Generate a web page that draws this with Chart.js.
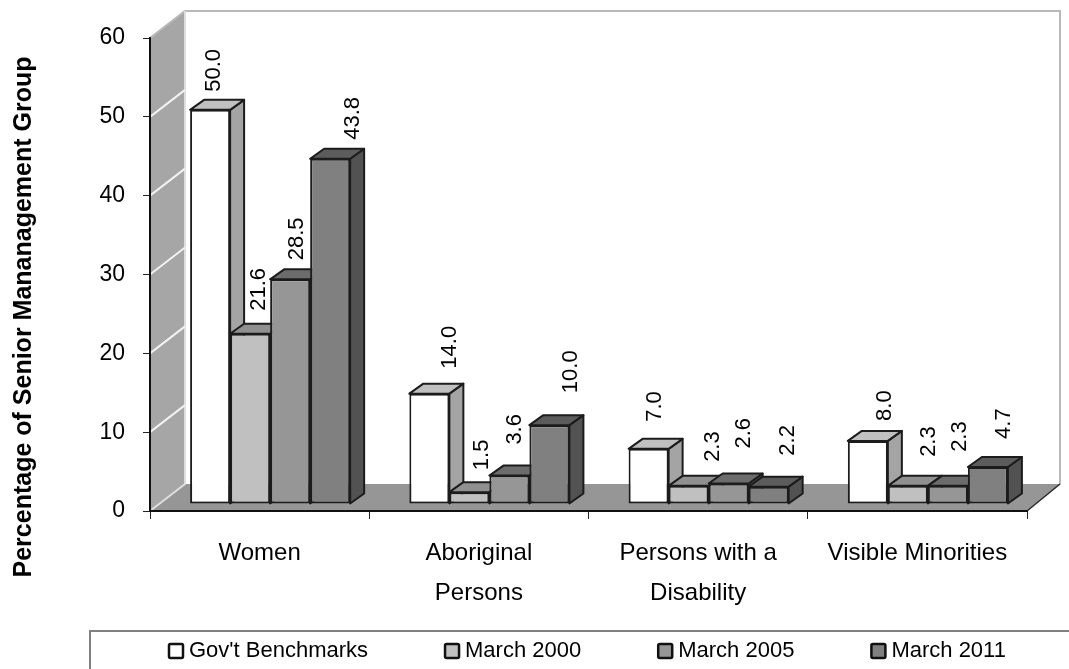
<!DOCTYPE html>
<html>
<head>
<meta charset="utf-8">
<style>
  html, body { margin: 0; padding: 0; background: #fff; overflow: hidden; }
  canvas { display: block; }
</style>
<script src="https://cdn.jsdelivr.net/npm/chart.js@4/dist/chart.umd.js"></script>
</head>
<body>
<canvas id="benchChart" width="1069" height="669"></canvas>
<script>
const categories = ['Women', ['Aboriginal', 'Persons'], ['Persons with a', 'Disability'], 'Visible Minorities'];
const seriesNames = ["Gov't Benchmarks", 'March 2000', 'March 2005', 'March 2011'];
const benchmarks = [50.0, 14.0, 7.0, 8.0];
const march2000 = [21.6, 1.5, 2.3, 2.3];
const march2005 = [28.5, 3.6, 2.6, 2.3];
const march2011 = [43.8, 10.0, 2.2, 4.7];
const yTicks = [0, 10, 20, 30, 40, 50, 60];

const frontColors = ['#ffffff', '#c0c0c0', '#969696', '#808080'];
const topColors = ['#c0c0c0', '#909090', '#6c6c6c', '#5c5c5c'];
const sideColors = ['#a4a4a4', '#858585', '#606060', '#525252'];

const FONT = '"Liberation Sans", Arial, sans-serif';
const LINE = '#1c1c1c';

// the bars stand a little in front of the axis plane
const barShift = { x: 10.5, y: -7 };
const barDepth = { x: 14, y: -10 };
const wallDepth = { x: 35, y: -27 };
const wallRightInset = 2;

// hand placed value labels: [along x from bar centre, gap above bar top], per series then category
const labelNudge = [
  [[4, 18], [21, 25], [6, 27], [17, 20]],
  [[9, 23], [13, 22], [24, 24], [21, 29]],
  [[7, 19], [6, 31], [15, 35], [12, 34]],
  [[23, 19], [22, 32], [19, 31], [16, 28]]
];

function poly(ctx, pts, fill, stroke, width) {
  ctx.beginPath();
  pts.forEach((p, i) => (i ? ctx.lineTo(p[0], p[1]) : ctx.moveTo(p[0], p[1])));
  ctx.closePath();
  ctx.fillStyle = fill;
  ctx.fill();
  if (stroke) {
    ctx.strokeStyle = stroke;
    ctx.lineWidth = width;
    ctx.stroke();
  }
}

const roomPlugin = {
  id: 'room',
  beforeDraw(chart) {
    const { ctx, chartArea: a, scales } = chart;
    const dx = wallDepth.x, dy = wallDepth.y;
    const backRight = a.right + dx - wallRightInset;
    ctx.save();
    // back wall
    poly(ctx, [[a.left + dx, a.top + dy], [backRight, a.top + dy], [backRight, a.bottom + dy], [a.left + dx, a.bottom + dy]], '#ffffff');
    // side wall
    poly(ctx, [[a.left, a.bottom], [a.left, a.top], [a.left + dx, a.top + dy], [a.left + dx, a.bottom + dy]], '#a6a6a6');
    // floor
    poly(ctx, [[a.left, a.bottom], [a.left + dx, a.bottom + dy], [backRight, a.bottom + dy], [a.right, a.bottom]], '#969696');
    // wall outlines
    ctx.strokeStyle = '#b8b8b8';
    ctx.lineWidth = 2;
    ctx.beginPath();
    ctx.moveTo(a.left, a.top);
    ctx.lineTo(a.left + dx, a.top + dy);
    ctx.lineTo(backRight, a.top + dy);
    ctx.lineTo(backRight, a.bottom + dy);
    ctx.stroke();
    ctx.strokeStyle = '#dedede';
    ctx.beginPath();
    ctx.moveTo(a.left + dx, a.top + dy);
    ctx.lineTo(a.left + dx, a.bottom + dy);
    ctx.lineTo(a.left, a.bottom);
    ctx.stroke();
    ctx.strokeStyle = '#2a2a2a';
    ctx.lineWidth = 1.5;
    ctx.beginPath();
    ctx.moveTo(a.right, a.bottom);
    ctx.lineTo(backRight, a.bottom + dy);
    ctx.stroke();
    // gridlines only show on the side wall
    ctx.strokeStyle = '#f2f2f2';
    ctx.lineWidth = 2;
    yTicks.slice(1, -1).forEach(v => {
      const y = scales.y.getPixelForValue(v);
      ctx.beginPath();
      ctx.moveTo(a.left, y);
      ctx.lineTo(a.left + dx, y + dy);
      ctx.stroke();
    });
    ctx.restore();
  },
  beforeDatasetsDraw(chart) {
    const { ctx } = chart;
    ctx.save();
    ctx.translate(barShift.x, barShift.y);
    ctx.lineJoin = 'round';
    categories.forEach((c, i) => {
      chart.data.datasets.forEach((ds, d) => {
        const bar = chart.getDatasetMeta(d).data[i];
        const l = bar.x - bar.width / 2, r = bar.x + bar.width / 2;
        const dx = barDepth.x, dy = barDepth.y;
        poly(ctx, [[r, bar.y], [r + dx, bar.y + dy], [r + dx, bar.base + dy], [r, bar.base]], sideColors[d], LINE, 2);
        poly(ctx, [[l, bar.y], [l + dx, bar.y + dy], [r + dx, bar.y + dy], [r, bar.y]], topColors[d], LINE, 2);
      });
    });
    ctx.restore();
  },
  beforeDatasetDraw(chart) {
    chart.ctx.save();
    chart.ctx.translate(barShift.x, barShift.y);
  },
  afterDatasetDraw(chart) {
    chart.ctx.restore();
  },
  afterDraw(chart) {
    const { ctx } = chart;
    ctx.save();
    // value labels, rotated
    ctx.fillStyle = '#000';
    ctx.font = '22px ' + FONT;
    ctx.textAlign = 'left';
    ctx.textBaseline = 'middle';
    chart.data.datasets.forEach((ds, d) => {
      chart.getDatasetMeta(d).data.forEach((bar, i) => {
        const n = labelNudge[d][i];
        ctx.save();
        ctx.translate(bar.x + barShift.x + n[0], bar.y + barShift.y - n[1]);
        ctx.rotate(-Math.PI / 2);
        ctx.fillText(ds.data[i].toFixed(1), 0, 0);
        ctx.restore();
      });
    });
    // axis title sits lower than the axis centre
    ctx.save();
    ctx.translate(24, 317);
    ctx.rotate(-Math.PI / 2);
    ctx.textAlign = 'center';
    ctx.font = 'bold 25px ' + FONT;
    ctx.fillText('Percentage of Senior Mananagement Group', 0, 0);
    ctx.restore();
    // legend box runs off the page on the right and the bottom
    ctx.strokeStyle = '#808080';
    ctx.lineWidth = 2;
    ctx.beginPath();
    ctx.moveTo(90, 669);
    ctx.lineTo(90, 631);
    ctx.lineTo(1069, 631);
    ctx.stroke();
    ctx.font = '22px ' + FONT;
    let x = 169;
    chart.data.datasets.forEach((ds, d) => {
      ctx.fillStyle = frontColors[d];
      ctx.strokeStyle = '#111';
      ctx.lineWidth = 2.5;
      ctx.beginPath();
      ctx.roundRect(x, 644, 14, 14, 1.5);
      ctx.fill();
      ctx.stroke();
      ctx.fillStyle = '#000';
      ctx.fillText(ds.label, x + 20, 651);
      x += 20 + ctx.measureText(ds.label).width + 77;
    });
    ctx.restore();
  }
};

const values = [benchmarks, march2000, march2005, march2011];

new Chart(document.getElementById('benchChart'), {
  type: 'bar',
  data: {
    labels: categories,
    datasets: seriesNames.map((name, d) => ({
      label: name,
      data: values[d],
      backgroundColor: frontColors[d],
      borderColor: LINE,
      borderWidth: 2,
      borderSkipped: false,
      clip: false
    }))
  },
  options: {
    responsive: false,
    animation: false,
    categoryPercentage: 0.73,
    barPercentage: 1,
    layout: { padding: { top: 38, right: 42 } },
    plugins: { legend: { display: false }, tooltip: { enabled: false } },
    scales: {
      x: {
        afterFit: s => { s.height = 158; },
        grid: { drawOnChartArea: false, color: '#222', tickLength: 8 },
        border: { color: '#111', width: 2 },
        ticks: { color: '#000', padding: 14, maxRotation: 0, autoSkip: false, font: { family: FONT, size: 24, lineHeight: 1.67 } }
      },
      y: {
        min: 0,
        max: 60,
        afterFit: s => { s.width = 150; },
        grid: { drawOnChartArea: false, color: '#222', tickLength: 7 },
        border: { color: '#111', width: 2 },
        ticks: { color: '#000', padding: 18, stepSize: 10, font: { family: FONT, size: 23 } }
      }
    }
  },
  plugins: [roomPlugin]
});
</script>
</body>
</html>
